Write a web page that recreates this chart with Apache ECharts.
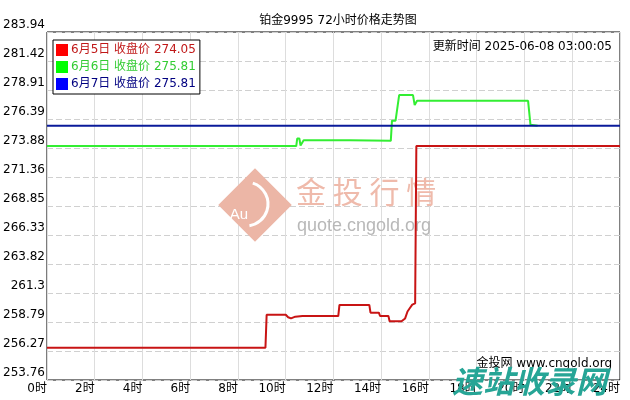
<!DOCTYPE html>
<html>
<head>
<meta charset="utf-8">
<script src="https://cdn.jsdelivr.net/npm/echarts@6/dist/echarts.min.js"></script>
<style>
html, body { margin: 0; padding: 0; background: #fff; }
#chart { width: 630px; height: 400px; }
</style>
</head>
<body>
<div id="chart"></div>
<script>
// ---- 数据 ----
var title_text = '铂金9995 72小时价格走势图'
var update_text = '更新时间 2025-06-08 03:00:05'
var source_text = '金投网 www.cngold.org'

// 纵轴刻度
var y_labels = ['253.76', '256.27', '258.79', '261.3', '263.82', '266.33', '268.85',
    '271.36', '273.88', '276.39', '278.91', '281.42', '283.94']
var y_min = 253.76
var y_max = 283.94

// 横轴 0时 ~ 24时
var x_labels = ['0时', '2时', '4时', '6时', '8时', '10时', '12时', '14时', '16时', '18时', '20时', '22时', '24时']

var series_names = ['6月5日 收盘价', '6月6日 收盘价', '6月7日 收盘价']
var last_values = ['274.05', '275.81', '275.81']

// [小时, 价格]
var day5_data = [
    [0, 256.56], [9.15, 256.56], [9.2, 259.42], [10.0, 259.42], [10.1, 259.2], [10.22, 259.1],
    [10.4, 259.25], [10.7, 259.3], [12.2, 259.3], [12.25, 260.27], [13.5, 260.27], [13.55, 259.6],
    [13.9, 259.6], [13.95, 259.31], [14.3, 259.31], [14.35, 258.85], [14.85, 258.85], [15.0, 259.1],
    [15.1, 259.7], [15.2, 260.0], [15.3, 260.3], [15.42, 260.4], [15.47, 274.05], [24, 274.05]
]
var day6_data = [
    [0, 274.05], [10.44, 274.05], [10.48, 274.7], [10.57, 274.7], [10.62, 274.1], [10.7, 274.1],
    [10.75, 274.55], [12.7, 274.55], [12.75, 274.5], [14.4, 274.5], [14.45, 276.25], [14.6, 276.25],
    [14.75, 278.47], [15.33, 278.47], [15.4, 277.6], [15.5, 277.97], [20.15, 277.97], [20.25, 275.9],
    [20.55, 275.81]
]
var day7_data = [
    [0, 275.81], [24, 275.81]
]

var line_colors = ['#c81414', '#33ee33', '#0a1a9a']
var legend_colors = ['#ff0000', '#00ff00', '#0000ff']
var legend_text_colors = ['#c01818', '#33cc33', '#000080']

var font = 'DejaVu Sans, Noto Sans CJK SC, sans-serif'

// ---- 图表 ----
var chart = echarts.init(document.getElementById('chart'))

var option = {
    backgroundColor: '#fff',
    animation: false,
    title: {
        text: title_text,
        left: 333,
        textAlign: 'center',
        top: 10,
        textStyle: { fontFamily: font, fontSize: 12, fontWeight: 'normal', color: '#000' }
    },
    grid: {
        left: 44, right: 10, top: 32, bottom: 20,
        show: true,
        borderColor: '#000',
        borderWidth: 1,
        backgroundColor: 'transparent'
    },
    legend: {
        orient: 'vertical',
        left: 53,
        top: 40,
        backgroundColor: '#fff',
        borderColor: '#000',
        borderWidth: 1,
        padding: [4, 4, 4, 3],
        itemGap: 5,
        itemWidth: 12,
        itemHeight: 12,
        icon: 'rect',
        selectedMode: false,
        data: series_names.map(function (name, i) {
            return {
                name: name,
                itemStyle: { color: legend_colors[i] },
                textStyle: { color: legend_text_colors[i] }
            }
        }),
        formatter: function (name) {
            return name + ' ' + last_values[series_names.indexOf(name)]
        },
        textStyle: { fontFamily: font, fontSize: 12, padding: [0, 0, 0, -2] }
    },
    xAxis: {
        type: 'value',
        min: 0,
        max: 24,
        interval: 2,
        axisLine: { show: false },
        axisTick: { show: false },
        axisLabel: {
            margin: 3,
            align: 'right',
            fontFamily: font,
            fontSize: 12,
            color: '#000',
            showMinLabel: true,
            showMaxLabel: true,
            formatter: function (value) {
                return x_labels[Math.round(value / 2)]
            }
        },
        splitLine: { show: true, lineStyle: { color: '#dddddd', width: 1 } }
    },
    yAxis: [
        {   // 数据轴
            type: 'value',
            min: y_min,
            max: y_max,
            show: false,
            splitLine: { show: false }
        },
        {   // 刻度轴
            type: 'value',
            min: 0,
            max: 12,
            interval: 1,
            position: 'left',
            axisLine: { show: false },
            axisTick: { show: false },
            axisLabel: {
                margin: 2,
                verticalAlign: 'bottom',
                padding: [0, 0, 1, 0],
                fontFamily: font,
                fontSize: 12,
                color: '#000',
                showMinLabel: true,
                showMaxLabel: true,
                formatter: function (value) {
                    return y_labels[Math.round(value)]
                }
            },
            splitLine: { show: true, lineStyle: { color: '#d0d0d0', type: [6, 3], width: 1 } }
        }
    ],
    series: [
        { name: series_names[0], data: day5_data, color: line_colors[0] },
        { name: series_names[1], data: day6_data, color: line_colors[1] },
        { name: series_names[2], data: day7_data, color: line_colors[2] }
    ].map(function (s, i) {
        return {
            name: s.name,
            type: 'line',
            yAxisIndex: 0,
            data: s.data,
            symbol: 'none',
            z: 3,
            itemStyle: { color: legend_colors[i] },
            lineStyle: { color: s.color, width: 2 }
        }
    }),
    graphic: [
        // 水印 logo
        {
            type: 'rect', z: 1, silent: true,
            x: 255, y: 205, rotation: Math.PI / 4,
            shape: { x: -26, y: -26, width: 52, height: 52 },
            style: { fill: '#ecb6a6' }
        },
        {
            type: 'arc', z: 1, silent: true,
            shape: { cx: 246, cy: 204, r: 22, startAngle: -Math.PI * 0.4, endAngle: Math.PI * 0.45 },
            style: { stroke: '#fff', lineWidth: 3, fill: null }
        },
        {
            type: 'text', z: 1, silent: true,
            x: 239, y: 215,
            style: { text: 'Au', fill: '#fff', fontFamily: 'Liberation Sans', fontSize: 15, align: 'center', verticalAlign: 'middle' }
        },
        {
            type: 'text', z: 1, silent: true,
            x: 296, y: 192,
            style: { text: '金 投 行 情', fill: '#efbaab', fontFamily: 'Noto Sans CJK SC', fontSize: 30, verticalAlign: 'middle' }
        },
        {
            type: 'text', z: 1, silent: true,
            x: 297, y: 226,
            style: { text: 'quote.cngold.org', fill: '#b8b8b8', fontFamily: 'Liberation Sans', fontSize: 18, verticalAlign: 'middle' }
        },
        // 更新时间
        {
            type: 'text', z: 5,
            x: 612, y: 47,
            style: { text: update_text, fill: '#000', fontFamily: font, fontSize: 12, align: 'right', verticalAlign: 'middle' }
        },
        // 来源
        {
            type: 'text', z: 5,
            x: 612, y: 364,
            style: { text: source_text, fill: '#000', fontFamily: font, fontSize: 12, align: 'right', verticalAlign: 'middle' }
        },
        // 站点水印
        {
            type: 'text', z: 10, silent: true,
            x: 452, y: 381,
            style: {
                text: '速站收录网', fill: '#26a596', fontFamily: 'Noto Sans CJK SC', fontSize: 31,
                fontWeight: 'bold', fontStyle: 'italic', verticalAlign: 'middle'
            }
        }
    ]
}

chart.setOption(option)
</script>
</body>
</html>
